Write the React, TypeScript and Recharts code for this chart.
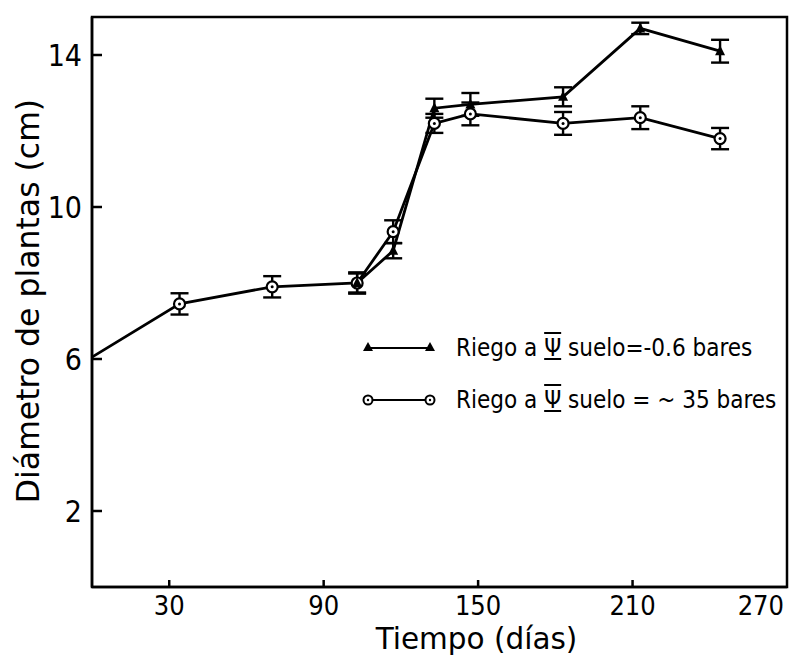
import React from 'react';
import { LineChart, Line, XAxis, YAxis, ErrorBar, ReferenceArea } from 'recharts';

const days = [0, 34, 70, 103, 117, 133, 147, 183, 213, 244];
const dry = [6.05, 7.45, 7.9, 8.0, 9.35, 12.2, 12.45, 12.2, 12.35, 11.8];
const dryErr = [0, 0.28, 0.28, 0.28, 0.3, 0.25, 0.3, 0.3, 0.3, 0.28];
const wet = [null, null, null, 8.0, 8.85, 12.6, 12.7, 12.9, 14.7, 14.1];
const wetErr = [null, null, null, 0.25, 0.2, 0.25, 0.3, 0.25, 0.15, 0.3];
const xTicks = [30, 90, 150, 210, 270];
const yTicks = [2, 6, 10, 14];
const legendLabels = ['Riego a ', ' suelo=-0.6 bares', ' suelo = ~ 35 bares'];

const rows = days.map((d, i) => ({
  day: d,
  dry: dry[i],
  dryErr: dryErr[i],
  wet: wet[i],
  wetErr: wetErr[i],
}));

const tickFont = '"DejaVu Sans Condensed", "DejaVu Sans", sans-serif';
const titleFont = '"DejaVu Sans", sans-serif';

const CircleDot = (p: any) => {
  if (p.cx == null || p.value == null || p.index === 0) return null;
  return (
    <g key={p.index}>
      <circle cx={p.cx} cy={p.cy} r={5.5} fill="#fff" stroke="#000" strokeWidth={2.2} />
      <circle cx={p.cx} cy={p.cy} r={1.5} fill="#000" />
    </g>
  );
};

const TriDot = (p: any) => {
  if (p.cx == null || p.value == null) return null;
  const { cx, cy } = p;
  return (
    <polygon
      key={p.index}
      points={`${cx},${cy - 6} ${cx - 5},${cy + 4} ${cx + 5},${cy + 4}`}
      fill="#000"
    />
  );
};

const YTick = (p: any) => (
  <g>
    <line x1={p.x + 10} x2={p.x + 20} y1={p.y} y2={p.y} stroke="#000" strokeWidth={2.5} />
    <text x={p.x} y={p.y} dy="0.36em" textAnchor="end" fontSize={30} fontFamily={tickFont} fill="#000">
      {p.payload.value}
    </text>
  </g>
);

const XTick = (p: any) => {
  const last = p.payload.value === 270;
  return (
    <g>
      {!last && <line x1={p.x} x2={p.x} y1={p.y} y2={p.y - 7} stroke="#000" strokeWidth={2.5} />}
      <text
        x={last ? p.x - 3 : p.x}
        y={p.y + 28}
        textAnchor={last ? 'end' : 'middle'}
        fontSize={27}
        fontFamily={tickFont}
        fill="#000"
      >
        {p.payload.value}
      </text>
    </g>
  );
};

const YTitle = (p: any) => {
  const vb = p.viewBox;
  const cx = vb.x + 28;
  const cy = vb.y + vb.height / 2 - 1;
  return (
    <text
      x={cx}
      y={cy}
      dy="0.36em"
      transform={`rotate(-90 ${cx} ${cy})`}
      textAnchor="middle"
      fontSize={31.5}
      fontFamily={titleFont}
      fill="#000"
    >
      Diámetro de plantas (cm)
    </text>
  );
};

const XTitle = (p: any) => {
  const vb = p.viewBox;
  return (
    <text
      x={vb.x + vb.width / 2 + 37}
      y={649}
      textAnchor="middle"
      fontSize={29.5}
      fontFamily={titleFont}
      fill="#000"
    >
      Tiempo (días)
    </text>
  );
};

const LegendRow = ({ kind, text, top }: { kind: string; text: string; top: number }) => (
  <div style={{ position: 'absolute', left: 360, top, display: 'flex', alignItems: 'center', height: 30 }}>
    <svg width={78} height={20}>
      <line x1={8} x2={70} y1={10} y2={10} stroke="#000" strokeWidth={2.2} />
      {kind === 'tri'
        ? [8, 70].map((x) => <polygon key={x} points={`${x},4 ${x - 5},13 ${x + 5},13`} fill="#000" />)
        : [8, 70].map((x) => (
            <g key={x}>
              <circle cx={x} cy={10} r={4.5} fill="#fff" stroke="#000" strokeWidth={2} />
              <circle cx={x} cy={10} r={1.2} fill="#000" />
            </g>
          ))}
    </svg>
    <span
      style={{
        marginLeft: 18,
        fontFamily: tickFont,
        fontSize: 24,
        whiteSpace: 'pre',
        color: '#000',
      }}
    >
      {legendLabels[0]}
      <span style={{ textDecoration: 'overline underline' }}>Ψ</span>
      {text}
    </span>
  </div>
);

export default function App() {
  return (
    <div style={{ position: 'absolute', left: 0, top: 0, width: 792, height: 657, background: '#fff' }}>
      <LineChart width={792} height={657} data={rows} margin={{ top: 17, right: 5, bottom: 0, left: 0 }}>
        <XAxis
          dataKey="day"
          type="number"
          domain={[0, 270]}
          ticks={xTicks}
          interval={0}
          tickSize={0}
          tickMargin={0}
          tick={<XTick />}
          height={70}
          axisLine={{ stroke: '#000', strokeWidth: 2.5 }}
          label={<XTitle />}
        />
        <YAxis
          type="number"
          domain={[0, 15]}
          ticks={yTicks}
          interval={0}
          tickSize={0}
          tickMargin={10}
          tick={<YTick />}
          width={92}
          axisLine={{ stroke: '#000', strokeWidth: 2.5 }}
          label={<YTitle />}
        />
        <ReferenceArea x1={0} x2={270} y1={0} y2={15} fill="none" stroke="#000" strokeWidth={2.5} ifOverflow="visible" />
        <Line
          dataKey="dry"
          stroke="#000"
          strokeWidth={2.8}
          dot={<CircleDot />}
          isAnimationActive={false}
        >
          <ErrorBar dataKey="dryErr" direction="y" width={9} stroke="#000" strokeWidth={2.4} />
        </Line>
        <Line
          dataKey="wet"
          stroke="#000"
          strokeWidth={2.8}
          dot={<TriDot />}
          isAnimationActive={false}
        >
          <ErrorBar dataKey="wetErr" direction="y" width={9} stroke="#000" strokeWidth={2.4} />
        </Line>
      </LineChart>
      <LegendRow kind="tri" text={legendLabels[1]} top={333} />
      <LegendRow kind="circ" text={legendLabels[2]} top={385} />
    </div>
  );
}
